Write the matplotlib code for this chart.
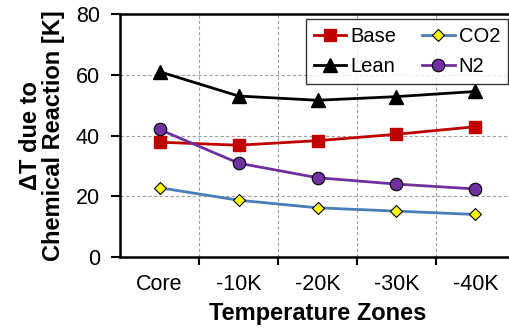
import matplotlib
matplotlib.use("Agg")
import matplotlib.pyplot as plt
import numpy as np

plt.rcParams['font.family'] = ['Liberation Sans', 'DejaVu Sans']

zones = ["Core", "-10K", "-20K", "-30K", "-40K"]
base = [37.8, 36.8, 38.3, 40.4, 42.9]
lean = [61.0, 53.0, 51.6, 52.8, 54.5]
co2 = [22.8, 18.7, 16.2, 15.1, 14.0]
n2 = [42.0, 30.9, 26.1, 24.0, 22.4]
yticks = [0, 20, 40, 60, 80]

fig = plt.figure(figsize=(5.09, 3.30), dpi=100)
ax = fig.add_axes([120/509, 73/330, 395/509, 243/330])

x = np.arange(len(zones))
ax.plot(x, base, color="#C00000", lw=2.0, marker="s", ms=8,
        mfc="#C00000", mec="#C00000", label="Base", zorder=3)
ax.plot(x, lean, color="black", lw=2.0, marker="^", ms=9.5,
        mfc="black", mec="black", label="Lean", zorder=3)
ax.plot(x, co2, color="#4A7EBB", lw=2.0, marker="D", ms=6.5,
        mfc="#FFFF00", mec="black", mew=0.8, label="CO2", zorder=3)
ax.plot(x, n2, color="#7030A0", lw=2.0, marker="o", ms=9,
        mfc="#7030A0", mec="black", mew=0.8, label="N2", zorder=3)

ax.set_xlim(-0.5, len(zones) - 0.5)
ax.set_ylim(0, 80)
ax.set_yticks(yticks)
ax.set_xticks(x)
ax.set_xticklabels(zones)
ax.set_xticks(np.arange(0.5, len(zones) - 0.5, 1.0), minor=True)

ax.tick_params(axis="x", which="major", length=0, pad=12.5, labelsize=15.5)
ax.tick_params(axis="x", which="minor", length=6, width=1.5, direction="out")
ax.tick_params(axis="y", which="major", length=6.5, width=1.5, direction="out",
               pad=8, labelsize=15.5)

ax.grid(True, axis="y", which="major", ls=(0, (3, 2)), color="#A0A0A0", lw=0.8)
ax.grid(True, axis="x", which="minor", ls=(0, (3, 2)), color="#A0A0A0", lw=0.8)
ax.grid(False, axis="x", which="major")

for side in ["left", "bottom", "top", "right"]:
    ax.spines[side].set_linewidth(1.8)
    ax.spines[side].set_color("black")

ax.set_ylabel("ΔT due to\nChemical Reaction [K]", fontsize=17, fontweight="bold",
              labelpad=8, linespacing=1.0)
ax.set_xlabel("Temperature Zones", fontsize=17, fontweight="bold", labelpad=5)

leg = ax.legend(ncol=2, loc="upper right", bbox_to_anchor=(508/509, 1 - 19/330),
                bbox_transform=fig.transFigure, fontsize=14.5, frameon=True,
                fancybox=False, edgecolor="black", borderaxespad=0,
                handlelength=1.6, handletextpad=0.2, columnspacing=1.3,
                borderpad=0.4, labelspacing=0.55)
leg.get_frame().set_linewidth(1.0)

fig.savefig("out.png", dpi=100)
